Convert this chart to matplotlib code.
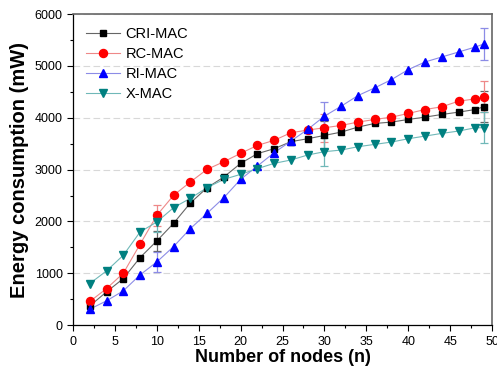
import numpy as np
import matplotlib
matplotlib.use("Agg")
import matplotlib.pyplot as plt
from matplotlib.ticker import MultipleLocator

plt.rcParams["font.family"] = ["Liberation Sans", "DejaVu Sans"]

# node counts and energy (mW)
nodes = [2, 4, 6, 8, 10, 12, 14, 16, 18, 20, 22, 24, 26, 28, 30, 32, 34, 36, 38,
         40, 42, 44, 46, 48, 49]
cri_mac = [372, 642, 899, 1304, 1625, 1965, 2357, 2652, 2858, 3121, 3308, 3404,
           3540, 3596, 3660, 3724, 3821, 3891, 3917, 3968, 4013, 4064, 4109,
           4160, 4212]
rc_mac = [456, 706, 1002, 1561, 2119, 2505, 2762, 3006, 3153, 3314, 3468, 3565,
          3712, 3763, 3808, 3853, 3917, 3968, 4013, 4083, 4160, 4212, 4320,
          4365, 4404]
ri_mac = [308, 469, 662, 970, 1220, 1516, 1863, 2158, 2460, 2813, 3070, 3327,
          3551, 3776, 4032, 4224, 4429, 4577, 4737, 4929, 5077, 5173, 5269,
          5365, 5423]
x_mac = [803, 1047, 1349, 1798, 1991, 2267, 2447, 2653, 2813, 2909, 3019, 3121,
         3186, 3282, 3346, 3378, 3442, 3487, 3532, 3596, 3647, 3699, 3744,
         3808, 3808]
# error bars only at a few node counts
err_nodes = [10, 30, 49]
err_size = [200, 270, 300]

series = [
    ("CRI-MAC", cri_mac, "s", "black", "#666666"),
    ("RC-MAC", rc_mac, "o", "#ff0000", "#ee8888"),
    ("RI-MAC", ri_mac, "^", "#0000ff", "#8c8ce6"),
    ("X-MAC", x_mac, "v", "#008080", "#70b8b8"),
]

fig = plt.figure(figsize=(4.97, 3.72), dpi=100)
ax = fig.add_axes([0.147, 0.126, 0.843, 0.836])

ax.grid(axis="y", which="major", color="#d8d8d8", ls=(0, (6, 3)), lw=0.8)
ax.set_axisbelow(True)

for name, vals, mk, col, lcol in series:
    ms = 5.0 if mk == "s" else 5.8
    ax.plot(nodes, vals, color=lcol, lw=0.8, zorder=2)
    ax.plot(nodes, vals, ls="none", marker=mk, ms=ms, color=col, zorder=3)
    ey = [vals[nodes.index(n)] for n in err_nodes]
    ax.errorbar(err_nodes, ey, yerr=err_size, fmt="none", ecolor=lcol,
                elinewidth=0.9, capsize=3, capthick=0.9, zorder=1)
    ax.plot([], [], color=lcol, lw=0.8, marker=mk, ms=ms, mfc=col, mec=col,
            label=name)

ax.set_xlim(0, 50)
ax.set_ylim(0, 6000)
ax.xaxis.set_major_locator(MultipleLocator(5))
ax.xaxis.set_minor_locator(MultipleLocator(2.5))
ax.yaxis.set_major_locator(MultipleLocator(1000))
ax.yaxis.set_minor_locator(MultipleLocator(500))
ax.tick_params(which="both", direction="out", top=False, right=False,
               labelsize=9, width=0.8)
ax.tick_params(which="major", length=4)
ax.tick_params(which="minor", length=2.5)
for s in ["top", "right"]:
    ax.spines[s].set_color("#666666")
    ax.spines[s].set_linewidth(1.2)
for s in ["left", "bottom"]:
    ax.spines[s].set_linewidth(0.9)

ax.set_xlabel("Number of nodes (n)", fontsize=13, fontweight="bold", labelpad=1)
ax.set_ylabel("Energy consumption (mW)", fontsize=14.5, fontweight="bold",
              labelpad=4)

handles, labels = ax.get_legend_handles_labels()
ax.legend(handles, labels, loc="upper left", frameon=False, fontsize=10.5,
          handlelength=2.3, labelspacing=0.4, borderaxespad=0.5,
          handletextpad=0.4)

fig.savefig("out.png", dpi=100)
